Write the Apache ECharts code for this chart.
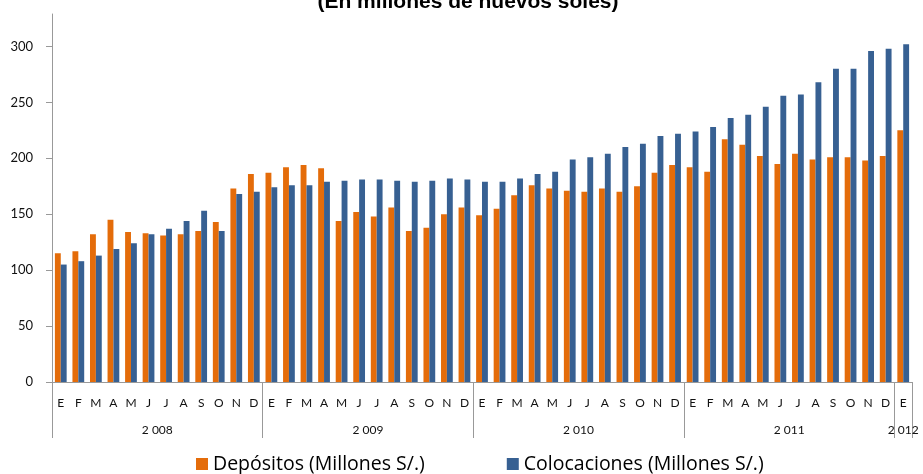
<!DOCTYPE html>
<html>
<head>
<meta charset="utf-8">
<script src="https://cdn.jsdelivr.net/npm/echarts@6/dist/echarts.min.js"></script>
<style>
  html, body { margin: 0; padding: 0; background: #ffffff; }
  #depositos { width: 923px; height: 474px; }
</style>
</head>
<body>
<div id="depositos"></div>
<script>
// meses (ene 2008 - ene 2012)
const meses = [
  "E","F","M","A","M","J","J","A","S","O","N","D",
  "E","F","M","A","M","J","J","A","S","O","N","D",
  "E","F","M","A","M","J","J","A","S","O","N","D",
  "E","F","M","A","M","J","J","A","S","O","N","D",
  "E"
];
const anios = ["2 008", "2 009", "2 010", "2 011", "2 012"];
const anioCentro = [6, 18, 30, 42, 48.5];
const anioLimites = [0, 12, 24, 36, 48, 49];
const yTicks = [0, 50, 100, 150, 200, 250, 300];

const depositos = [
  115, 117, 132, 145, 134, 133, 131, 132, 135, 143, 173, 186,
  187, 192, 194, 191, 144, 152, 148, 156, 135, 138, 150, 156,
  149, 155, 167, 176, 173, 171, 170, 173, 170, 175, 187, 194,
  192, 188, 217, 212, 202, 195, 204, 199, 201, 201, 198, 202,
  225
];
const colocaciones = [
  105, 108, 113, 119, 124, 132, 137, 144, 153, 135, 168, 170,
  174, 176, 176, 179, 180, 181, 181, 180, 179, 180, 182, 181,
  179, 179, 182, 186, 188, 199, 201, 204, 210, 213, 220, 222,
  224, 228, 236, 239, 246, 256, 257, 268, 280, 280, 296, 298,
  302
];

const chart = echarts.init(document.getElementById("depositos"));
chart.setOption({
  animation: false,
  title: {
    text: "(En millones de nuevos soles)",
    left: 468,
    textAlign: "center",
    top: -8,
    padding: 0,
    textStyle: {
      color: "#000000",
      fontFamily: "Liberation Sans",
      fontWeight: "bold",
      fontSize: 21
    }
  },
  legend: {
    data: ["Depósitos (Millones S/.)", "Colocaciones (Millones S/.)"],
    left: 196,
    top: 454,
    icon: "rect",
    itemWidth: 12,
    itemHeight: 12,
    itemGap: 82,
    padding: 0,
    textStyle: {
      color: "#000000",
      fontFamily: "Open Sans",
      fontSize: 19.5
    }
  },
  grid: {
    left: 52,
    right: 11,
    top: 14,
    bottom: 92
  },
  xAxis: [
    {
      type: "category",
      data: meses,
      axisLine: { show: true, lineStyle: { color: "#999999", width: 1 } },
      axisTick: { show: false },
      axisLabel: {
        interval: 0,
        margin: 15,
        color: "#111111",
        fontFamily: "Lato",
        fontSize: 12
      },
      splitLine: { show: false }
    },
    {
      // fila de años
      type: "value",
      min: 0,
      max: 49,
      position: "bottom",
      axisLine: { show: false },
      axisTick: {
        show: true,
        customValues: anioLimites,
        length: 56,
        lineStyle: { color: "#999999", width: 1 }
      },
      axisLabel: {
        customValues: anioCentro,
        margin: 42,
        color: "#111111",
        fontFamily: "Lato",
        fontSize: 12,
        formatter: function (value) {
          return anios[anioCentro.indexOf(value)];
        }
      },
      splitLine: { show: false }
    }
  ],
  yAxis: {
    type: "value",
    min: 0,
    max: 329,
    axisLine: { show: true, lineStyle: { color: "#999999", width: 1 } },
    axisTick: {
      show: true,
      customValues: yTicks,
      length: 6,
      lineStyle: { color: "#999999" }
    },
    axisLabel: {
      customValues: yTicks,
      margin: 19,
      color: "#111111",
      fontFamily: "Lato",
      fontSize: 13
    },
    splitLine: { show: false }
  },
  series: [
    {
      name: "Depósitos (Millones S/.)",
      type: "bar",
      xAxisIndex: 0,
      data: depositos,
      barGap: "0%",
      barCategoryGap: "33%",
      itemStyle: { color: "#E46C0A" }
    },
    {
      name: "Colocaciones (Millones S/.)",
      type: "bar",
      xAxisIndex: 0,
      data: colocaciones,
      barGap: "0%",
      barCategoryGap: "33%",
      itemStyle: { color: "#376092" }
    }
  ]
});
</script>
</body>
</html>
